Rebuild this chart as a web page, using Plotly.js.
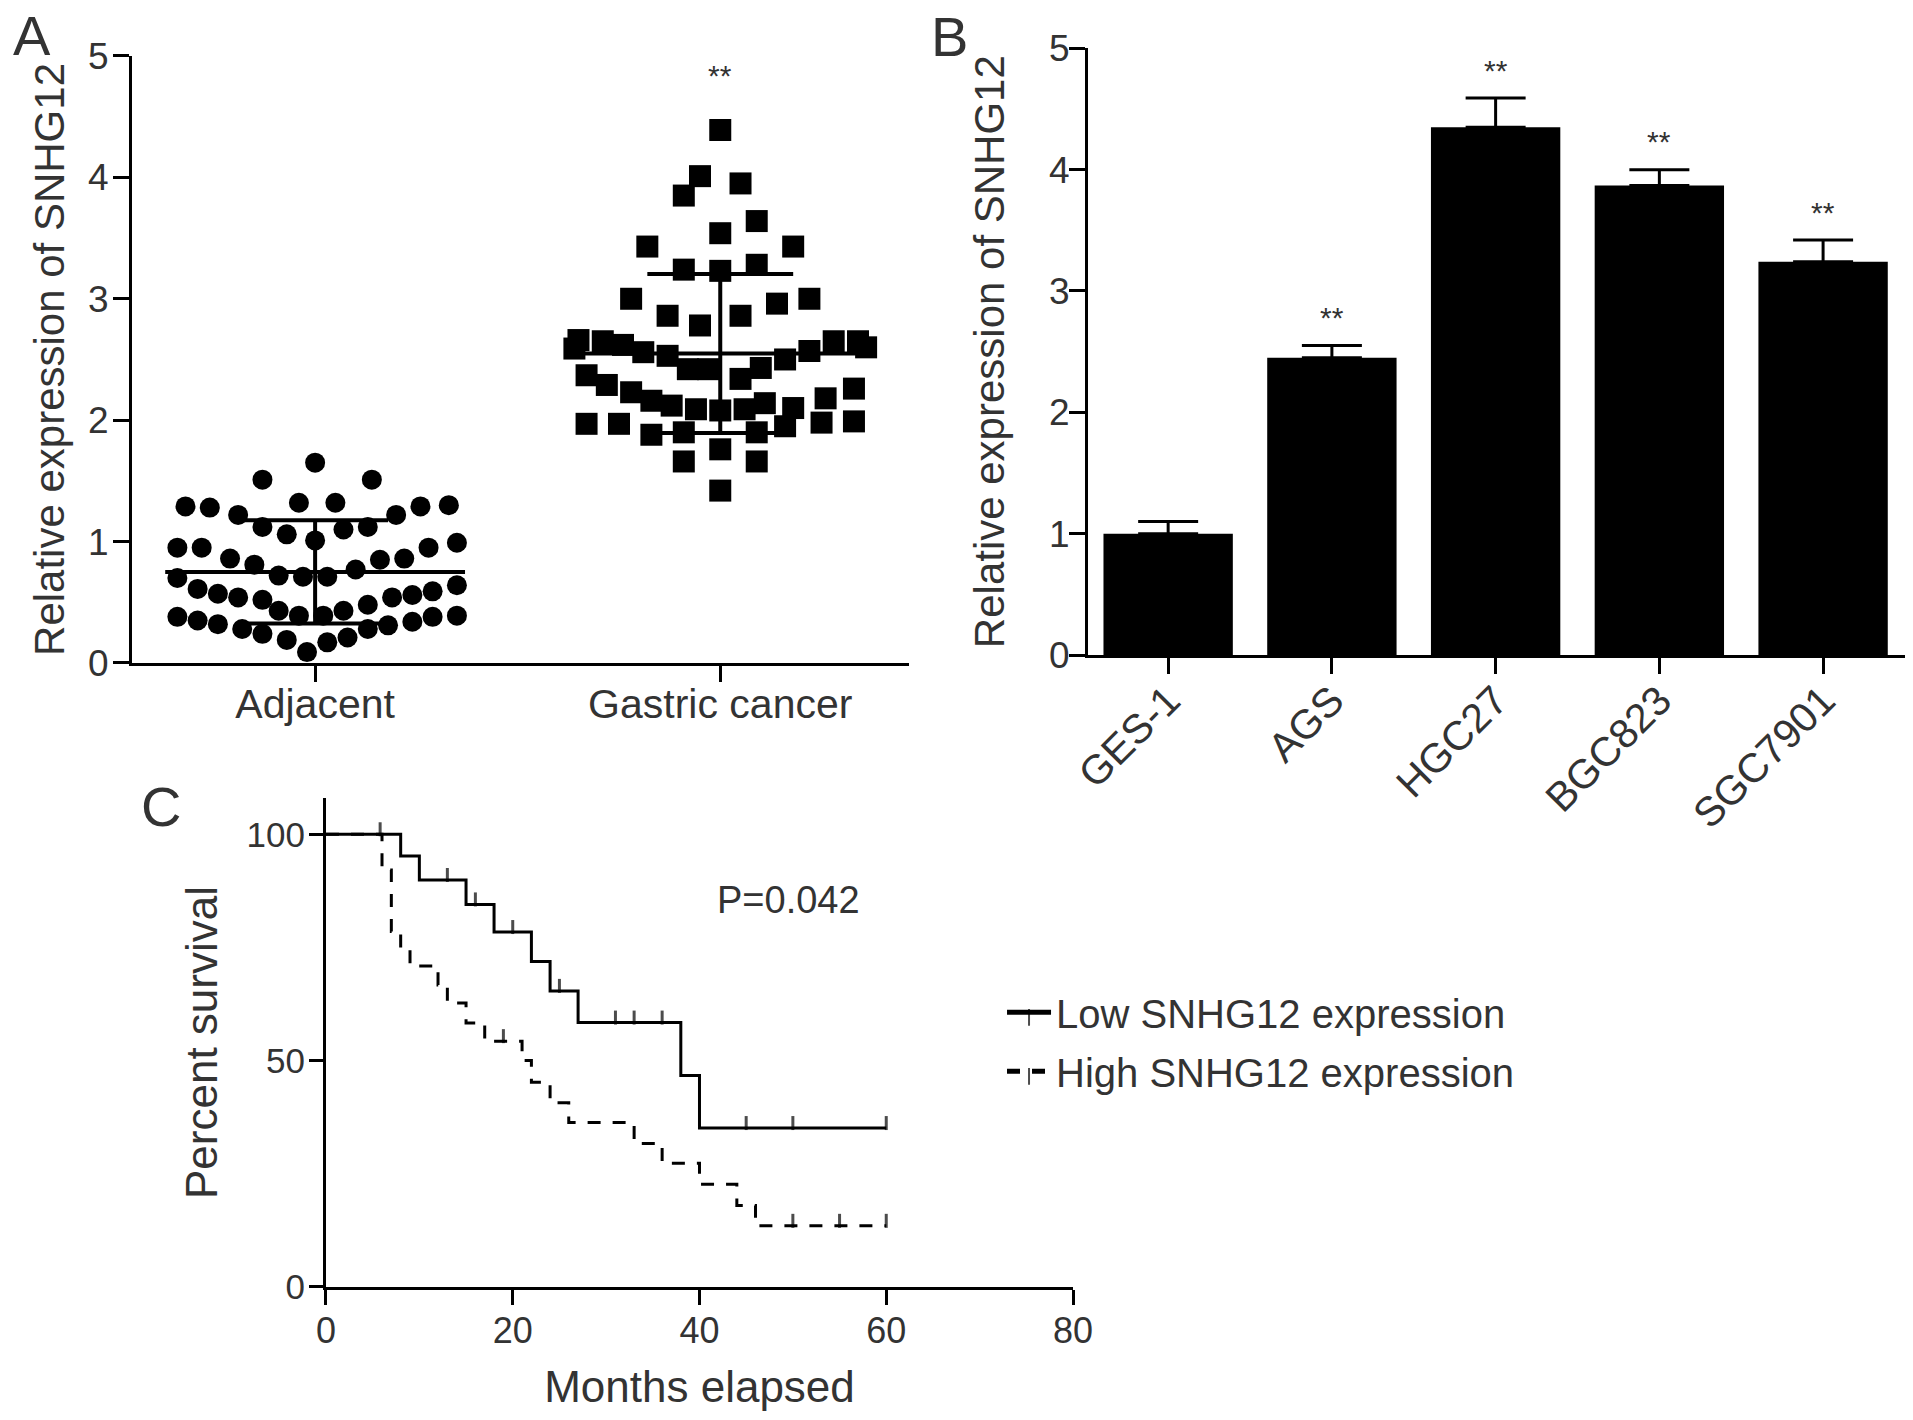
<!DOCTYPE html>
<html><head><meta charset="utf-8">
<script src="https://cdn.plot.ly/plotly-3.0.1.min.js"></script>
<style>html,body{margin:0;padding:0;background:#fff}</style>
</head><body><div id="chart" style="width:1913px;height:1420px"></div>
<script>
// ---------- Panel A: scatter dot plot ----------
const groupLabels = ['Adjacent', 'Gastric cancer'];
const adjacentValues = [1.65,1.51,1.51, 1.29,1.28,1.22,1.32,1.32,1.22,1.29,1.30, 1.12,1.06,1.01,1.10,1.12,
  0.95,0.95,0.86,0.81,0.72,0.71,0.71,0.77,0.85,0.86,0.95,0.99,
  0.70,0.61,0.57,0.54,0.52,0.48,0.54,0.56,0.59,0.64,
  0.43,0.39,0.39,0.43,
  0.38,0.35,0.32,0.28,0.24,0.19,0.09,0.17,0.21,0.28,0.31,0.34,0.38,0.39];
const adjacentSpread = [0,-0.13,0.14, -0.32,-0.26,-0.19,-0.04,0.05,0.2,0.26,0.33, -0.13,-0.07,0,0.07,0.13,
  -0.34,-0.28,-0.21,-0.15,-0.09,-0.03,0.03,0.1,0.16,0.22,0.28,0.35,
  -0.34,-0.29,-0.24,-0.19,-0.13,0.13,0.19,0.24,0.29,0.35,
  -0.09,-0.04,0.02,0.07,
  -0.34,-0.29,-0.24,-0.18,-0.13,-0.07,-0.02,0.03,0.08,0.13,0.18,0.24,0.29,0.35];
const gastricValues = [4.39,4.01,3.85,3.95,3.64,3.54,3.43,3.43,3.24,3.23,3.28,3.00,3.00,2.86,2.96,2.78,2.86,
  2.66,2.65,2.62,2.56,2.53,2.42,2.42,2.34,2.43,2.50,2.57,2.65,2.65,2.59,2.60,
  2.37,2.29,2.23,2.16,2.12,2.09,2.08,2.09,2.14,2.10,2.18,2.26,
  1.97,1.97,1.88,1.90,1.66,1.76,1.90,1.66,1.95,1.98,1.99,1.42];
const gastricSpread = [0,-0.05,-0.09,0.05,0.09,0,-0.18,0.18,-0.09,0,0.09,-0.22,0.22,-0.13,0.14,-0.05,0.05,
  -0.35,-0.29,-0.24,-0.19,-0.13,-0.08,-0.03,0.05,0.1,0.16,0.22,0.28,0.34,-0.36,0.36,
  -0.33,-0.28,-0.22,-0.17,-0.12,-0.06,0,0.06,0.11,0.18,0.26,0.33,
  -0.33,-0.25,-0.17,-0.09,-0.09,0,0.09,0.09,0.16,0.25,0.33,0];
const groupMeans = [0.75, 2.55];
const groupSDs = [0.425, 0.655];

// ---------- Panel B: bar chart ----------
const cellLines = ['GES-1','AGS','HGC27','BGC823','SGC7901'];
const cellExpression = [1.0, 2.45, 4.35, 3.87, 3.24];
const cellError = [0.10, 0.10, 0.24, 0.13, 0.18];
const cellSignificance = ['', '**', '**', '**', '**'];

// ---------- Panel C: Kaplan-Meier ----------
const lowEventMonths = [8,10,15,18,22,24,27,38,40];
const lowEventSurvival = [95.2,89.9,84.5,78.4,71.9,65.4,58.4,46.7,35.1];
const lowCensorMonths = [13,16,20,25,31,33,36,45,50,60];
const highEventMonths = [6,7,8,9,12,13,15,17,21,22,24,26,33,36,40,44,46];
const highEventSurvival = [92.1,78.5,74.8,70.9,66.7,62.7,58.3,54.3,50.0,45.2,40.7,36.3,31.7,27.3,22.7,18.0,13.5];
const highCensorMonths = [5.8,19,50,55,60];
const seriesNames = ['Low SNHG12 expression','High SNHG12 expression'];
const pValueText = 'P=0.042';

const FONT = 'Liberation Sans, Arial, Helvetica, sans-serif';
const TXT = '#333';

function kmSeries(evT, evS, cT, tickSize){
  const pts = [{t:0, s:100, c:false}];
  evT.forEach((t,i)=>pts.push({t:t, s:evS[i], c:false}));
  cT.forEach(t=>pts.push({t:t, c:true}));
  pts.sort((a,b)=> (a.t-b.t) || ((a.c?0:1)-(b.c?0:1)));
  let cur = 100; const x=[], y=[], sz=[];
  pts.forEach(p=>{ if(!p.c) cur = p.s; x.push(p.t); y.push(cur); sz.push(p.c ? tickSize : 0); });
  return {x, y, sz};
}

const traces = [];
traces.push({type:'scatter', mode:'markers', x: adjacentSpread.map(o=>0+o), y: adjacentValues,
  marker:{symbol:'circle', size:20, color:'#000'}, xaxis:'x', yaxis:'y', showlegend:false, cliponaxis:false, hoverinfo:'skip'});
traces.push({type:'scatter', mode:'markers', x: gastricSpread.map(o=>1+o), y: gastricValues,
  marker:{symbol:'square', size:22, color:'#000'}, xaxis:'x', yaxis:'y', showlegend:false, cliponaxis:false, hoverinfo:'skip'});
groupMeans.forEach((m,i)=>{
  const s = groupSDs[i];
  traces.push({type:'scatter', mode:'lines',
    x:[i-0.37,i+0.37,null,i-0.18,i+0.18,null,i-0.18,i+0.18,null,i,i],
    y:[m,m,null,m+s,m+s,null,m-s,m-s,null,m-s,m+s],
    line:{color:'#000', width:4}, xaxis:'x', yaxis:'y', showlegend:false, cliponaxis:false, hoverinfo:'skip'});
});
traces.push({type:'bar', x: cellLines, y: cellExpression, xaxis:'x2', yaxis:'y2', showlegend:false,
  marker:{color:'#000', line:{width:0}},
  error_y:{type:'data', symmetric:false, array: cellError, arrayminus: cellError.map(()=>0), color:'#000', thickness:3, width:30},
  hoverinfo:'skip'});
const low = kmSeries(lowEventMonths, lowEventSurvival, lowCensorMonths, 10);
const high = kmSeries(highEventMonths, highEventSurvival, highCensorMonths, 10);
traces.push({type:'scatter', mode:'lines+markers', name: seriesNames[0], legendgroup:'low', x: low.x, y: low.y,
  line:{shape:'hv', color:'#000', width:3}, marker:{symbol:'line-ns-open', size: low.sz, color:'#000', line:{width:3, color:'#000'}, angle:180, standoff:5},
  xaxis:'x3', yaxis:'y3', cliponaxis:false, hoverinfo:'skip'});
traces.push({type:'scatter', mode:'lines+markers', name: seriesNames[1], legendgroup:'high', x: high.x, y: high.y,
  line:{shape:'hv', color:'#000', width:3, dash:'13px,12px'}, marker:{symbol:'line-ns-open', size: high.sz, color:'#000', line:{width:3, color:'#000'}, angle:180, standoff:5},
  xaxis:'x3', yaxis:'y3', cliponaxis:false, hoverinfo:'skip'});

const axisBase = {showgrid:false, zeroline:false, showline:true, linecolor:'#000', linewidth:3,
  ticks:'outside', ticklen:16, tickwidth:3, tickcolor:'#000', fixedrange:true,
  tickfont:{family:FONT, size:37, color:TXT}};

const letterFont = {family:FONT, size:56, color:TXT};
const annotations = [
  {text:'A', x:32/1913, y:1-36/1420, xref:'paper', yref:'paper', xanchor:'center', yanchor:'middle', showarrow:false, font:letterFont},
  {text:'B', x:949/1913, y:1-37/1420, xref:'paper', yref:'paper', xanchor:'center', yanchor:'middle', showarrow:false, font:letterFont},
  {text:'C', x:161/1913, y:1-806/1420, xref:'paper', yref:'paper', xanchor:'center', yanchor:'middle', showarrow:false, font:letterFont},
  {text:'**', x:1, y:4.84, xref:'x', yref:'y', xanchor:'center', yanchor:'middle', showarrow:false, font:{family:FONT, size:30, color:TXT}},
  {text:pValueText, x:49.5, y:85.5, xref:'x3', yref:'y3', xanchor:'center', yanchor:'middle', showarrow:false, font:{family:FONT, size:38, color:TXT}}
];
cellLines.forEach((c,i)=>{
  if(cellSignificance[i]) annotations.push({text:cellSignificance[i], x:c, y:cellExpression[i]+cellError[i],
    xref:'x2', yref:'y2', xanchor:'center', yanchor:'middle', showarrow:false, yshift:28, font:{family:FONT, size:30, color:TXT}});
});

const layout = {
  width:1913, height:1420, margin:{l:0,r:0,t:0,b:0},
  paper_bgcolor:'#fff', plot_bgcolor:'rgba(0,0,0,0)',
  font:{family:FONT, color:TXT},
  bargap:0.21,
  xaxis: Object.assign({}, axisBase, {domain:[0.0690,0.4752], range:[-0.452,1.466], tickvals:[0,1], ticktext:groupLabels,
    tickfont:{family:FONT, size:41, color:TXT}, ticklabelstandoff:-13, anchor:'y'}),
  yaxis: Object.assign({}, axisBase, {domain:[0.5331,0.9606], range:[0,5], dtick:1, anchor:'x', ticklabelstandoff:-3,
    title:{text:'Relative expression of SNHG12', standoff:11, font:{family:FONT, size:42, color:TXT}}}),
  xaxis2: Object.assign({}, axisBase, {domain:[0.5687,0.9958], range:[-0.49,4.5], type:'category', tickangle:-45,
    tickfont:{family:FONT, size:41, color:TXT}, ticklabelstandoff:-14, anchor:'y2'}),
  yaxis2: Object.assign({}, axisBase, {domain:[0.5387,0.966], range:[0,5], dtick:1, anchor:'x2', ticklabelstandoff:-8,
    title:{text:'Relative expression of SNHG12', standoff:32, font:{family:FONT, size:42, color:TXT}}}),
  xaxis3: Object.assign({}, axisBase, {domain:[0.1704,0.5609], range:[0,80], tickvals:[0,20,40,60,80], anchor:'y3',
    ticklen:15, ticklabelstandoff:-5, tickfont:{family:FONT, size:36, color:TXT},
    title:{text:'Months elapsed', standoff:22, font:{family:FONT, size:44, color:TXT}}}),
  yaxis3: Object.assign({}, axisBase, {domain:[0.0937,0.438], range:[0,108], tickvals:[0,50,100], anchor:'x3',
    ticklen:14, ticklabelstandoff:-3, tickfont:{family:FONT, size:35, color:TXT},
    title:{text:'Percent survival', standoff:16, font:{family:FONT, size:44, color:TXT}}}),
  showlegend:true,
  legend:{x:0.5238, y:0.310, xanchor:'left', yanchor:'top', bgcolor:'rgba(0,0,0,0)', borderwidth:0,
    font:{family:FONT, size:40, color:TXT}, itemwidth:44, tracegroupgap:4, itemsizing:'constant'},
  annotations: annotations
};

Plotly.newPlot('chart', traces, layout, {displayModeBar:false, staticPlot:true});
</script>
</body></html>
